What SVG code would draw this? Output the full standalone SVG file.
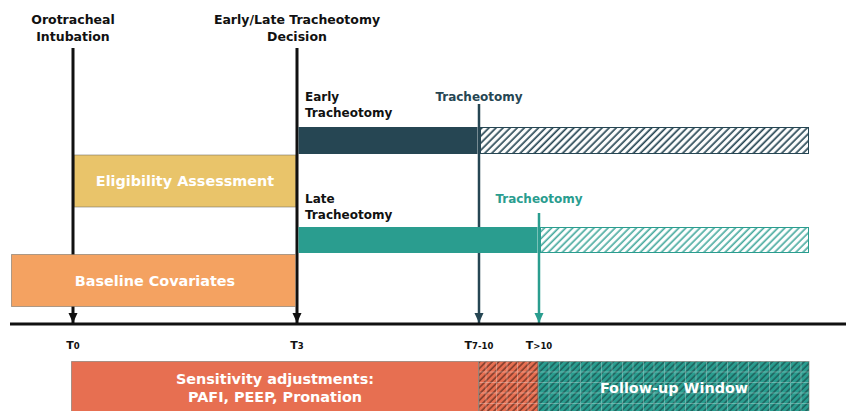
<svg xmlns="http://www.w3.org/2000/svg" width="846" height="411" viewBox="0 0 846 411">
  <style>
    text { font-family: "DejaVu Sans", "Liberation Sans", sans-serif; font-weight: bold; }
    .head { font-size: 12.5px; fill: #111; text-anchor: middle; }
    .arm { font-size: 12px; fill: #111; }
    .box { font-size: 14.4px; fill: #fff; text-anchor: middle; }
    .tick { font-size: 11px; fill: #111; text-anchor: middle; }
    .tick tspan.sub { font-size: 8.5px; }
    .frame { stroke: #6f6a60; stroke-opacity: 0.55; stroke-width: 1; }
  </style>
  <defs>
    <!-- diagonal hatch for the post-procedure part of each arm -->
    <pattern id="hatchDark" patternUnits="userSpaceOnUse" width="5" height="5" patternTransform="rotate(45)">
      <rect width="5" height="5" fill="#fff"/>
      <line x1="1.2" y1="0" x2="1.2" y2="5" stroke="#264653" stroke-width="1.7"/>
    </pattern>
    <pattern id="hatchTeal" patternUnits="userSpaceOnUse" width="5" height="5" patternTransform="rotate(45)">
      <rect width="5" height="5" fill="#fff"/>
      <line x1="1.2" y1="0" x2="1.2" y2="5" stroke="#2A9D8F" stroke-opacity="0.85" stroke-width="1.7"/>
    </pattern>
    <!-- dense diagonal + grid textures for the bottom band -->
    <pattern id="diagDark" patternUnits="userSpaceOnUse" width="4.5" height="4.5" patternTransform="rotate(45)">
      <line x1="1" y1="0" x2="1" y2="4.5" stroke="#163a3c" stroke-opacity="0.6" stroke-width="1.6"/>
    </pattern>
    <pattern id="diagBrown" patternUnits="userSpaceOnUse" width="4.5" height="4.5" patternTransform="rotate(45)">
      <line x1="1" y1="0" x2="1" y2="4.5" stroke="#4a2219" stroke-opacity="0.65" stroke-width="1.6"/>
    </pattern>
    <pattern id="grid" patternUnits="userSpaceOnUse" x="538" y="361" width="10.5" height="10.5">
      <path d="M0 0.5H10.5M0.5 0V10.5" stroke="#fff" stroke-opacity="0.3" stroke-width="1" fill="none"/>
    </pattern>
    <marker id="arrowBlack" viewBox="0 0 10 10" refX="10" refY="5" markerWidth="10" markerHeight="10" markerUnits="userSpaceOnUse" orient="auto">
      <path d="M0 0.5L10 5L0 9.5Z" fill="#111"/>
    </marker>
    <marker id="arrowDark" viewBox="0 0 10 10" refX="10" refY="5" markerWidth="10" markerHeight="10" markerUnits="userSpaceOnUse" orient="auto">
      <path d="M0 0.5L10 5L0 9.5Z" fill="#264653"/>
    </marker>
    <marker id="arrowTeal" viewBox="0 0 10 10" refX="10" refY="5" markerWidth="10" markerHeight="10" markerUnits="userSpaceOnUse" orient="auto">
      <path d="M0 0.5L10 5L0 9.5Z" fill="#2A9D8F"/>
    </marker>
  </defs>

  <rect width="846" height="411" fill="#fff"/>

  <!-- event headings -->
  <g id="intubation">
    <text class="head" x="73" y="24">Orotracheal</text>
    <text class="head" x="73" y="41">Intubation</text>
  </g>
  <g id="decision">
    <text class="head" x="297" y="24">Early/Late Tracheotomy</text>
    <text class="head" x="297" y="41">Decision</text>
  </g>

  <!-- eligibility window -->
  <g id="eligibility">
    <rect class="frame" x="74" y="155" width="222" height="52" fill="#E9C46A"/>
    <text class="box" x="185" y="186">Eligibility Assessment</text>
  </g>

  <!-- event markers dropping onto the axis -->
  <g id="connectors">
    <line x1="73" y1="48" x2="73" y2="323" stroke="#111" stroke-width="3" marker-end="url(#arrowBlack)"/>
    <line x1="297" y1="48" x2="297" y2="323" stroke="#111" stroke-width="3" marker-end="url(#arrowBlack)"/>
    <line x1="479" y1="104" x2="479" y2="323" stroke="#264653" stroke-width="2.5" marker-end="url(#arrowDark)"/>
    <line x1="539" y1="213" x2="539" y2="323" stroke="#2A9D8F" stroke-width="2.5" marker-end="url(#arrowTeal)"/>
  </g>

  <!-- baseline window, laid over the intubation marker -->
  <g id="baseline">
    <rect class="frame" x="11.5" y="254.5" width="284" height="52" fill="#F4A261"/>
    <text class="box" x="155" y="286">Baseline Covariates</text>
  </g>

  <!-- treatment arms -->
  <g id="early-arm">
    <text class="arm" x="305" y="101">Early</text>
    <text class="arm" x="305" y="117">Tracheotomy</text>
    <rect x="298.5" y="127" width="179" height="27" fill="#264653"/>
    <rect x="480.5" y="127.5" width="328" height="26" fill="url(#hatchDark)" stroke="#264653" stroke-width="1"/>
  </g>
  <g id="late-arm">
    <text class="arm" x="305" y="203">Late</text>
    <text class="arm" x="305" y="219">Tracheotomy</text>
    <rect x="298.5" y="227" width="239" height="26" fill="#2A9D8F"/>
    <rect x="540.5" y="227.5" width="268" height="25" fill="url(#hatchTeal)" stroke="#2A9D8F" stroke-width="1"/>
  </g>
  <g id="early-tracheotomy">
    <text class="arm" x="479" y="101" style="fill:#264653;text-anchor:middle">Tracheotomy</text>
  </g>
  <g id="late-tracheotomy">
    <text class="arm" x="539" y="203" style="fill:#2A9D8F;text-anchor:middle">Tracheotomy</text>
  </g>

  <!-- time axis -->
  <g id="timeline">
    <line x1="10" y1="324" x2="846" y2="324" stroke="#111" stroke-width="3"/>
    <text class="tick" x="73" y="349">T<tspan class="sub">0</tspan></text>
    <text class="tick" x="297" y="349">T<tspan class="sub">3</tspan></text>
    <text class="tick" x="479" y="349">T<tspan class="sub">7-10</tspan></text>
    <text class="tick" x="539" y="349">T<tspan class="sub">&gt;10</tspan></text>
  </g>

  <!-- analysis windows -->
  <g id="sensitivity">
    <rect class="frame" x="71.5" y="361.5" width="407" height="55" fill="#E76F51"/>
    <text class="box" x="275" y="384">Sensitivity adjustments:</text>
    <text class="box" x="275" y="402">PAFI, PEEP, Pronation</text>
  </g>
  <g id="transition">
    <rect x="479" y="361.5" width="59" height="55" fill="#E76F51"/>
    <rect x="479" y="361.5" width="59" height="55" fill="url(#diagBrown)"/>
    <rect x="479" y="361.5" width="59" height="55" fill="url(#grid)"/>
    <rect class="frame" x="479" y="361.5" width="59" height="55" fill="none"/>
  </g>
  <g id="follow-up">
    <rect x="538" y="361.5" width="271" height="55" fill="#2A9D8F"/>
    <rect x="538" y="361.5" width="271" height="55" fill="url(#diagDark)"/>
    <rect x="538" y="361.5" width="271" height="55" fill="url(#grid)"/>
    <rect class="frame" x="538" y="361.5" width="271" height="55" fill="none"/>
    <text class="box" x="674" y="393">Follow-up Window</text>
  </g>
</svg>
